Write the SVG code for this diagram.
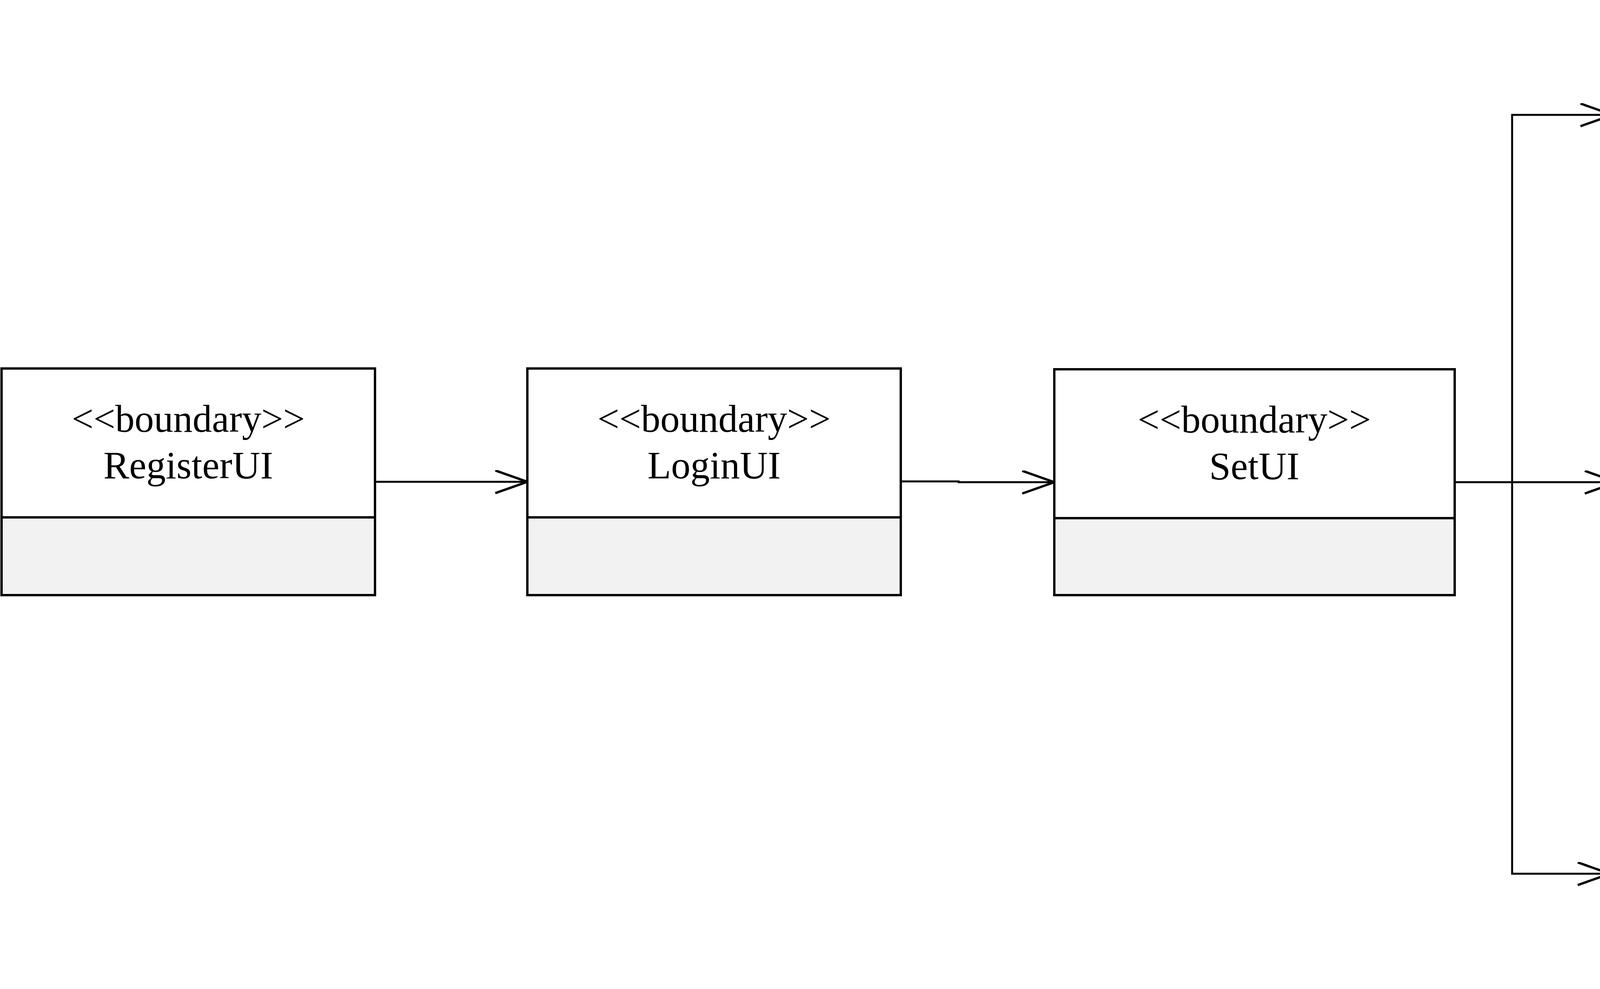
<svg xmlns="http://www.w3.org/2000/svg" width="5200" height="2531" viewBox="0 0 5200 2531">
<style>
.hd{fill:#FFFFFF;stroke:#000;stroke-width:6}
.bd{fill:#F2F2F2;stroke:#000;stroke-width:6}
.t{font-family:"Liberation Serif","Times New Roman",serif;font-size:99px;fill:#000;text-anchor:middle}
.c{fill:none;stroke:#000;stroke-width:5}
</style>
<defs>
<marker id="open" markerUnits="userSpaceOnUse" markerWidth="100" markerHeight="80" refX="84" refY="30" orient="auto">
<path d="M2,1 L84,30 L2,59" fill="none" stroke="#000" stroke-width="6"/>
</marker>
</defs>
<rect width="5200" height="2531" fill="#FFFFFF"/>
<g id="connectors">
<path class="c" d="M960,1233 H1350" marker-end="url(#open)"/>
<path class="c" d="M2306,1232 H2454 V1234 H2699" marker-end="url(#open)"/>
<path class="c" d="M3724,1234 H4139" marker-end="url(#open)"/>
<path class="c" d="M3871,1234 V294 H4128" marker-end="url(#open)"/>
<path class="c" d="M3871,1234 V2236 H4121" marker-end="url(#open)"/>
</g>
<g id="RegisterUI">
<rect class="hd" x="4" y="943" width="956" height="381"/>
<rect class="bd" x="4" y="1324" width="956" height="199"/>
<text class="t" x="482" y="1105">&lt;&lt;boundary&gt;&gt;</text>
<text class="t" x="482" y="1224">RegisterUI</text>
</g>
<g id="LoginUI">
<rect class="hd" x="1350" y="943" width="956" height="381"/>
<rect class="bd" x="1350" y="1324" width="956" height="199"/>
<text class="t" x="1828" y="1105">&lt;&lt;boundary&gt;&gt;</text>
<text class="t" x="1828" y="1224">LoginUI</text>
</g>
<g id="SetUI">
<rect class="hd" x="2699" y="945" width="1025" height="381"/>
<rect class="bd" x="2699" y="1326" width="1025" height="197"/>
<text class="t" x="3211" y="1107">&lt;&lt;boundary&gt;&gt;</text>
<text class="t" x="3211" y="1226">SetUI</text>
</g>
<g id="SearchUI">
<rect class="hd" x="4128" y="4" width="1038" height="381"/>
<rect class="bd" x="4128" y="385" width="1038" height="198"/>
<text class="t" x="4647" y="165">&lt;&lt;boundary&gt;&gt;</text>
<text class="t" x="4647" y="284">SearchUI</text>
</g>
<g id="PickUpUI">
<rect class="hd" x="4139" y="945" width="1038" height="381"/>
<rect class="bd" x="4139" y="1326" width="1038" height="197"/>
<text class="t" x="4658" y="1107">&lt;&lt;boundary&gt;&gt;</text>
<text class="t" x="4658" y="1226">PickUpUI</text>
</g>
<g id="HistoryUI">
<rect class="hd" x="4121" y="1947" width="1072" height="381"/>
<rect class="bd" x="4121" y="2328" width="1072" height="199"/>
<text class="t" x="4657" y="2109">&lt;&lt;boundary&gt;&gt;</text>
<text class="t" x="4657" y="2228">HistoryUI</text>
</g>
</svg>
